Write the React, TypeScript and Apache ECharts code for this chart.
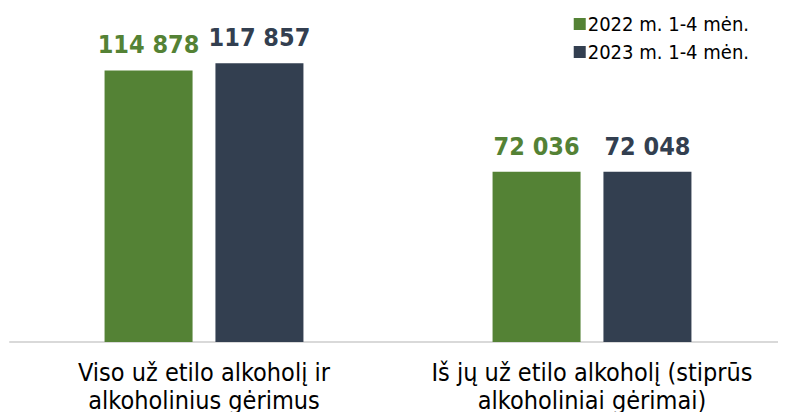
import React, { useEffect, useRef } from "react";
import * as echarts from "echarts";

const categories = [
  "Viso už etilo alkoholį ir\nalkoholinius gėrimus",
  "Iš jų už etilo alkoholį (stiprūs\nalkoholiniai gėrimai)",
];
const seriesNames = ["2022 m. 1-4 mėn.", "2023 m. 1-4 mėn."];
const values2022 = [114878, 72036];
const values2023 = [117857, 72048];
const colors = ["#548235", "#333F50"];

const fmt = (v: number) =>
  String(v).replace(/\B(?=(\d{3})+(?!\d))/g, " ");

export default function App() {
  const ref = useRef<HTMLDivElement>(null);
  useEffect(() => {
    if (!ref.current) return;
    const chart = echarts.init(ref.current, undefined, { renderer: "svg" });
    const font = "'DejaVu Sans Condensed', 'DejaVu Sans', sans-serif";
    const mk = (name: string, data: number[], color: string) => ({
      type: "bar",
      name,
      data,
      barWidth: 88,
      barGap: "26%",
      itemStyle: { color },
      label: {
        show: true,
        position: "top",
        distance: 13,
        color,
        fontFamily: font,
        fontWeight: "bold",
        fontSize: 25,
        formatter: (p: any) => fmt(p.value),
      },
    });
    chart.setOption({
      animation: false,
      textStyle: { fontFamily: font },
      legend: {
        orient: "vertical",
        right: 32,
        top: 9,
        itemWidth: 12,
        itemHeight: 12,
        itemGap: 8,
        icon: "rect",
        textStyle: { fontFamily: font, fontSize: 20, color: "#000", padding: [0, 0, 0, -3] },
        data: seriesNames,
      },
      grid: { left: 10, right: -2, top: 11, bottom: 78 },
      xAxis: {
        type: "category",
        data: categories,
        axisTick: { show: false },
        axisLine: { lineStyle: { color: "#D9D9D9", width: 2 } },
        axisLabel: {
          color: "#000",
          fontFamily: font,
          fontSize: 25,
          lineHeight: 28,
          margin: 16,
          interval: 0,
        },
      },
      yAxis: {
        type: "value",
        min: 0,
        max: 140000,
        show: false,
        splitLine: { show: false },
      },
      series: [
        mk(seriesNames[0], values2022, colors[0]),
        mk(seriesNames[1], values2023, colors[1]),
      ],
    });
    return () => chart.dispose();
  }, []);
  return <div ref={ref} style={{ width: 786, height: 420, margin: -8 }} />;
}
